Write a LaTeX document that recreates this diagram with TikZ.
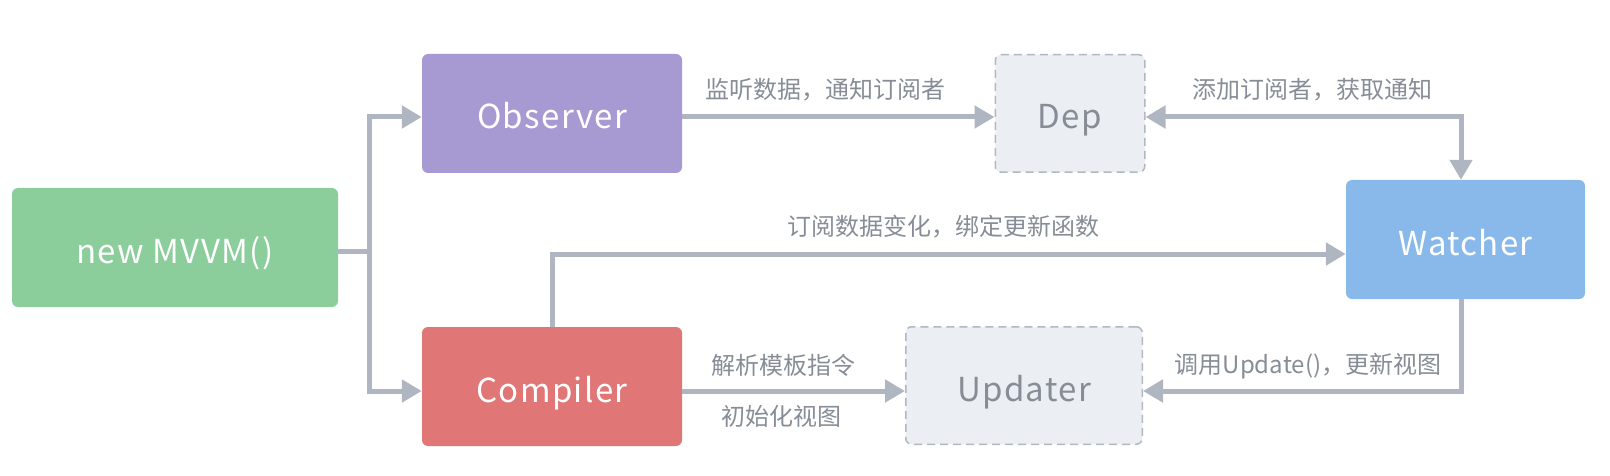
\documentclass[tikz,border=0pt]{standalone}
\usepackage{fontspec}
\setmainfont{Noto Sans CJK SC}
\newfontfamily\boxfont[LetterSpace=4]{Noto Sans CJK SC}
\usetikzlibrary{arrows.meta}

\definecolor{mvvmgreen}{HTML}{8BCD9B}
\definecolor{obspurple}{HTML}{A79AD3}
\definecolor{comred}{HTML}{E07676}
\definecolor{watblue}{HTML}{89B9EA}
\definecolor{ghostfill}{HTML}{EBEEF3}
\definecolor{ghostline}{HTML}{B2B8C1}
\definecolor{linegray}{HTML}{AFB6C1}
\definecolor{textgray}{HTML}{878D96}

\begin{document}
\begin{tikzpicture}[x=1pt, y=-1pt,
  >={Triangle[length=20pt, width=22pt]},
  box/.style={rounded corners=6pt, minimum height=119pt, inner sep=0pt,
    text height=31pt, text depth=0pt,
    text=white, font=\boxfont\fontsize{33}{38}\selectfont},
  ghost/.style={box, fill=ghostfill, draw=ghostline, line width=1.5pt,
    dash pattern=on 8pt off 5pt, minimum height=117.5pt, text=textgray},
  conn/.style={draw=linegray, line width=5pt, ->},
  lbl/.style={text=textgray, font=\fontsize{24}{29}\selectfont}]
  \useasboundingbox (0,0) rectangle (1610,476);

  \node[box, fill=mvvmgreen, minimum width=326pt] (M) at (175,247.5) {new MVVM()};
  \node[box, fill=obspurple, minimum width=260pt] (O) at (552,113.5) {Observer};
  \node[box, fill=comred, minimum width=260pt] (C) at (552,386.5) {Compiler};
  \node[ghost, minimum width=149.5pt] (D) at (1070,113.5) {Dep};
  \node[ghost, minimum width=236.5pt] (U) at (1024,385.5) {Updater};
  \node[box, fill=watblue, minimum width=239pt] (W) at (1465.5,239.5) {Watcher};

  % split after new MVVM()
  \coordinate (S) at (369,251);
  \draw[conn, -] ([yshift=-3.5pt]M.east) -- (S);
  \draw[conn] (S) |- ([yshift=-3.5pt]O.west);
  \draw[conn] (S) |- ([yshift=-4.5pt]C.west);

  \draw[conn] ([yshift=-3.5pt]O.east) -- ([yshift=-3.5pt]D.west);
  \node[lbl] (L1) at (825,90) {监听数据，通知订阅者};

  \draw[conn, <->] ([yshift=-3.5pt]D.east) -| ([xshift=-4.5pt]W.north);
  \node[lbl] (L2) at (1312,90) {添加订阅者，获取通知};

  \draw[conn] (C.north) |- ([yshift=-14.5pt]W.west);
  \node[lbl] (L3) at (943,227) {订阅数据变化，绑定更新函数};

  \draw[conn] ([yshift=-4.5pt]C.east) -- ([yshift=-5.5pt]U.west);
  \node[lbl] (L4) at (783,365) {解析模板指令};
  \node[lbl] (L5) at (781,416) {初始化视图};

  \draw[conn] ([xshift=-4.5pt]W.south) |- ([yshift=-5.5pt]U.east);
  \node[lbl] (L6) at (1308,366) {调用Update()，更新视图};
\end{tikzpicture}
\end{document}
